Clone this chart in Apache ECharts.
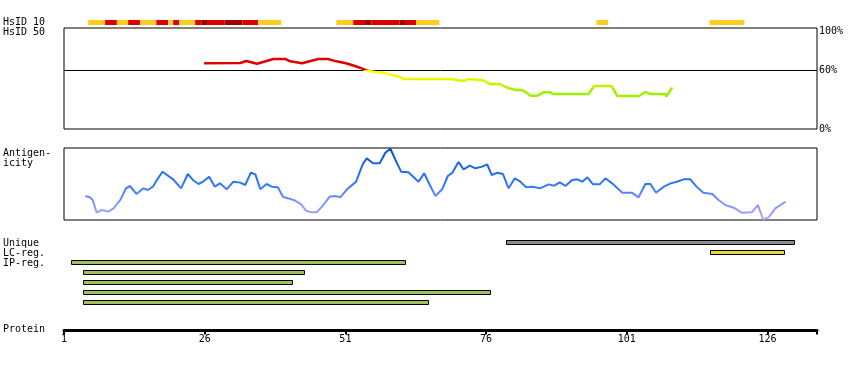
<!DOCTYPE html>
<html><head><meta charset="utf-8">
<script src="https://cdn.jsdelivr.net/npm/echarts@6/dist/echarts.min.js"></script>
<style>html,body{margin:0;padding:0;background:#fff}#c{width:850px;height:370px}</style>
</head><body><div id="c"></div>
<script>
// ---- data (residue positions along the protein) ----
const hsid10Segments = [
  [5.3,8.3,0],[8.3,10.4,1],[10.4,12.4,0],[12.4,14.5,1],[14.5,17.4,0],[17.4,19.5,1],
  [19.5,20.4,0],[20.4,21.5,1],[21.5,24.3,0],[24.3,25.4,1],[25.4,26.4,2],[26.4,29.5,1],
  [29.5,32.7,2],[32.7,35.5,1],[35.5,39.6,0],
  [49.4,52.4,0],[52.4,54.5,1],[54.5,55.6,2],[55.6,60.6,1],[60.6,61.6,2],[61.6,63.6,1],[63.6,67.7,0],
  [95.6,97.7,0],[115.7,121.9,0]
];
const hsid50Points = [
  [25.9,67.0],[32.3,67.3],[33.4,69.3],[35.3,66.6],[38.2,71.4],[40.3,71.4],[41.2,69.0],[43.3,67.0],
  [46.2,71.4],[47.9,71.4],[49.4,69.0],[51.1,67.0],[52.7,64.2],[54.0,61.5],[54.9,59.5],[56.3,58.1],
  [57.2,57.8],[58.6,56.1],[60.2,54.0],[61.6,51.0],[70.0,51.0],[71.4,49.3],[72.3,49.3],[72.8,51.0],
  [75.3,50.0],[76.7,45.9],[78.5,45.9],[79.4,43.1],[81.2,39.8],[82.4,39.8],[83.0,37.7],[83.9,34.0],
  [85.1,34.0],[86.2,37.4],[87.4,37.4],[87.9,35.7],[94.2,35.7],[95.2,43.9],[98.3,43.9],[99.3,33.7],
  [103.2,33.7],[104.3,37.7],[105.2,35.7],[107.9,35.7],[108.0,32.9],[109.1,42.5]
];
const antigenPoints = [
  [4.8,33.3],[5.6,31.5],[6.1,27.8],[6.8,10.2],[7.7,13.9],[8.9,11.6],[9.8,16.2],[11.0,27.8],[12.0,44.0],
  [12.7,47.2],[13.9,36.1],[15.1,44.0],[15.9,41.7],[16.8,46.3],[17.5,55.6],[18.5,67.1],[19.3,62.5],
  [20.4,56.5],[21.8,44.0],[23.0,63.9],[23.9,55.6],[24.9,50.0],[25.8,53.7],[26.8,60.2],[27.8,46.3],
  [28.7,50.9],[29.9,42.6],[31.1,53.2],[32.3,51.9],[33.2,48.6],[34.2,65.7],[35.0,63.4],[35.9,42.6],
  [37.0,50.0],[37.9,46.3],[39.0,45.4],[39.9,32.4],[41.8,27.8],[43.1,22.2],[44.0,12.9],[45.0,10.6],
  [45.9,10.6],[47.1,20.8],[48.2,32.4],[49.2,33.3],[50.1,31.5],[51.3,42.6],[52.9,53.2],[54.1,77.8],
  [54.8,85.6],[55.9,78.7],[57.1,78.7],[58.1,93.5],[59.0,99.0],[59.9,83.3],[60.9,67.1],[62.2,66.2],
  [64.0,53.2],[65.0,64.8],[66.0,48.6],[67.0,33.3],[68.2,42.6],[69.2,61.1],[70.0,65.7],[71.1,80.6],
  [72.0,70.4],[73.1,75.5],[74.1,71.8],[75.3,74.1],[76.2,77.3],[77.0,62.5],[78.0,65.7],[79.0,63.9],
  [80.0,44.0],[81.1,57.9],[82.1,53.2],[83.1,45.4],[84.2,46.3],[85.6,44.0],[87.1,49.5],[88.1,47.7],
  [89.1,52.3],[90.1,47.2],[91.3,55.6],[92.2,56.5],[93.1,53.2],[94.0,59.3],[95.0,49.5],[96.2,49.5],
  [97.2,57.9],[98.4,50.9],[100.2,38.0],[101.9,38.0],[103.1,31.5],[104.3,50.0],[105.2,50.0],[106.2,38.0],
  [107.6,46.3],[108.8,50.9],[109.9,53.2],[111.1,56.5],[112.3,56.5],[113.5,45.4],[114.6,38.0],[116.2,36.1],
  [117.3,27.8],[118.5,20.8],[120.0,17.1],[121.4,10.2],[123.2,10.6],[124.3,20.8],[125.2,1.0],[126.2,3.7],
  [127.4,16.2],[129.2,25.4]
];
const uniqueRegions = [[79.6,130.7]];
const lcRegions = [[115.7,128.8]];
const ipRegions = [[2.2,61.6],[4.4,43.6],[4.4,41.5],[4.4,76.7],[4.4,65.7]];
const proteinTicks = [1,26,51,76,101,126];
const proteinEnd = 134.8;
const hsid50Ticks = [0,60,100];
const hsid50Threshold = 60;

// ---- styling ----
const FONT = 'DejaVu Sans Mono';
const hsColors = ['#ffcc22','#dd0000','#a00000'];
const trackColors = {unique:'#8c8c8c', lc:'#e8d840', ip:'#9cc05a'};

const trackData = [];
uniqueRegions.forEach(r => trackData.push([r[0], r[1], 0, 'unique']));
lcRegions.forEach(r => trackData.push([r[0], r[1], 1, 'lc']));
ipRegions.forEach((r, i) => trackData.push([r[0], r[1], 2 + i, 'ip']));

const L = 64, R = 33;
const grids = [
  {left:L, right:R, top:20, height:5},
  {left:L, right:R, top:28, height:101, show:true, borderColor:'#000', borderWidth:1, backgroundColor:'transparent'},
  {left:L, right:R, top:148, height:72, show:true, borderColor:'#000', borderWidth:1, backgroundColor:'transparent'},
  {left:L, right:R, top:237.5, height:70},
  {left:L, right:R, top:300, height:30.5}
];
const xAxes = grids.map((g, i) => ({gridIndex:i, type:'value', min:1, max:proteinEnd, show:false}));
xAxes[4] = {
  gridIndex:4, type:'value', min:1, max:proteinEnd, position:'bottom',
  axisLine:{show:true, lineStyle:{color:'#000', width:3}},
  axisTick:{show:true, customValues:proteinTicks.concat([proteinEnd]), length:4, lineStyle:{color:'#000', width:2}},
  axisLabel:{show:true, customValues:proteinTicks, color:'#000', fontFamily:FONT, fontSize:10, margin:4},
  splitLine:{show:false}
};
const yAxes = [
  {gridIndex:0, type:'value', min:0, max:1, show:false},
  {gridIndex:1, type:'value', min:0, max:103, position:'right',
   axisLine:{show:false}, axisTick:{show:false}, splitLine:{show:false},
   axisLabel:{customValues:hsid50Ticks, formatter:'{value}%', color:'#000', fontFamily:FONT, fontSize:10, margin:2}},
  {gridIndex:2, type:'value', min:0, max:100, show:false},
  {gridIndex:3, type:'value', min:0, max:7, inverse:true, show:false},
  {gridIndex:4, type:'value', min:0, max:1, show:false}
];

function txt(t, x, y) {
  return {type:'text', x:x, y:y, style:{text:t, font:'10px ' + FONT, fill:'#000', verticalAlign:'middle', align:'left'}};
}

const option = {
  animation:false,
  backgroundColor:'#fff',
  grid:grids, xAxis:xAxes, yAxis:yAxes,
  visualMap:[
    {type:'piecewise', show:false, seriesIndex:1, dimension:1,
     pieces:[
       {gt:60, color:'#e00000'},
       {gt:55, lte:60, color:'#ffff00'},
       {gt:50.5, lte:55, color:'#f2fa00'},
       {gt:47, lte:50.5, color:'#daf600'},
       {gt:42, lte:47, color:'#c2f200'},
       {lte:42, color:'#a2ee00'}
     ]},
    {type:'continuous', show:false, seriesIndex:2, dimension:1, min:0, max:100,
     inRange:{color:['#b4a6ff','#7f94ff','#2c78f6','#1868ea','#0050c4']}}
  ],
  graphic:[
    txt('HsID 10', 3, 22.5), txt('HsID 50', 3, 32.5),
    txt('Antigen-', 3, 153), txt('icity', 3, 163),
    txt('Unique', 3, 243), txt('LC-reg.', 3, 253), txt('IP-reg.', 3, 263),
    txt('Protein', 3, 329.5)
  ],
  series:[
    {type:'custom', xAxisIndex:0, yAxisIndex:0, data:hsid10Segments, encode:{x:[0,1]},
     renderItem:(p, api) => {
       const a = api.coord([api.value(0), 1]);
       const b = api.coord([api.value(1), 0]);
       return {type:'rect', shape:{x:a[0], y:a[1], width:b[0]-a[0], height:b[1]-a[1]},
               style:{fill:hsColors[api.value(2)]}};
     }},
    {type:'line', xAxisIndex:1, yAxisIndex:1, data:hsid50Points, showSymbol:false, symbol:'none',
     lineStyle:{width:2.5}, z:3,
     markLine:{silent:true, symbol:'none', label:{show:false}, z:2,
               lineStyle:{color:'#000', width:1, type:'solid'}, data:[{yAxis:hsid50Threshold}]}},
    {type:'line', xAxisIndex:2, yAxisIndex:2, data:antigenPoints, showSymbol:false, symbol:'none',
     lineStyle:{width:2}},
    {type:'custom', xAxisIndex:3, yAxisIndex:3, data:trackData, encode:{x:[0,1]},
     renderItem:(p, api) => {
       const a = api.coord([api.value(0), api.value(2) + 0.5]);
       const b = api.coord([api.value(1), api.value(2) + 0.5]);
       const type = trackData[p.dataIndex][3];
       return {type:'rect', shape:{x:Math.round(a[0]) + 0.5, y:a[1]-2, width:Math.round(b[0]-a[0]), height:4},
               style:{fill:trackColors[type], stroke:'#000', lineWidth:1}};
     }}
  ]
};
const chart = echarts.init(document.getElementById('c'));
chart.setOption(option);
</script></body></html>
